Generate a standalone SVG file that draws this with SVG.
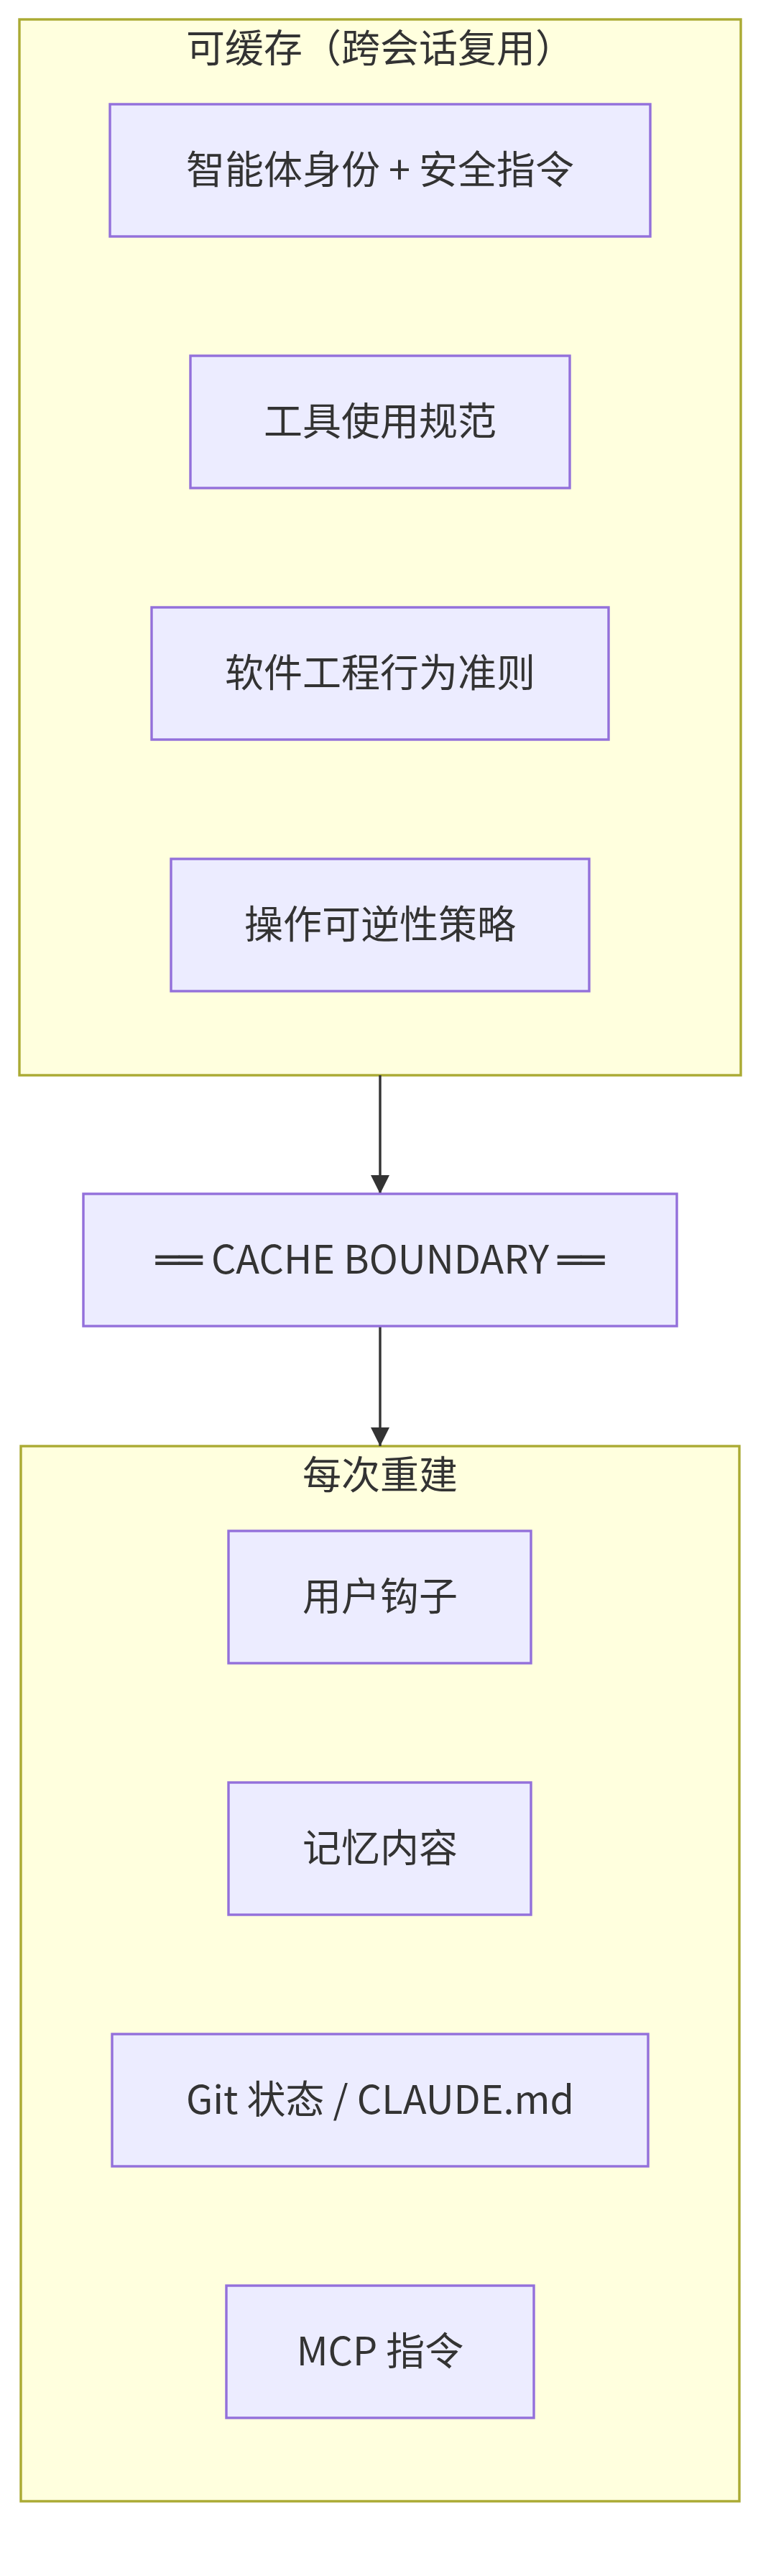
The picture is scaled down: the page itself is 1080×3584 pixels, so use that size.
<svg xmlns="http://www.w3.org/2000/svg" width="1080" height="3584" viewBox="0 0 1080 3584">
<style>
.cluster{fill:#ffffde;stroke:#aaaa33;stroke-width:3.4}
.node{fill:#ececff;stroke:#9370db;stroke-width:3.4}
.lbl{font-family:"Noto Sans CJK SC","Noto Sans CJK JP",sans-serif;font-size:54px;fill:#333333;text-anchor:middle}
.box{font-family:"DejaVu Sans",sans-serif}
.edge{stroke:#333333;stroke-width:3.4;fill:none}
</style>
<defs>
<marker id="arrow" viewBox="0 0 10 10" refX="10" refY="5" markerUnits="userSpaceOnUse" markerWidth="26" markerHeight="26" orient="auto">
<path d="M0,0 L10,5 L0,10 z" fill="#333333"/>
</marker>
</defs>
<rect width="1080" height="3584" fill="#ffffff"/>
<g id="cluster-cacheable">
<rect class="cluster" x="27" y="27" width="1004" height="1469"/>
<text class="lbl" x="529" y="87">可缓存（跨会话复用）</text>
</g>
<g id="cluster-rebuild">
<rect class="cluster" x="29" y="2012" width="1000" height="1468"/>
<text class="lbl" x="529" y="2072">每次重建</text>
</g>
<g id="edges">
<path class="edge" d="M529,1496 L529,1661" marker-end="url(#arrow)"/>
<path class="edge" d="M529,1845 L529,2012" marker-end="url(#arrow)"/>
</g>
<g id="node-identity">
<rect class="node" x="153" y="145" width="752" height="184"/>
<text class="lbl" x="529" y="256">智能体身份 + 安全指令</text>
</g>
<g id="node-tools">
<rect class="node" x="265" y="495" width="528" height="184"/>
<text class="lbl" x="529" y="606">工具使用规范</text>
</g>
<g id="node-se">
<rect class="node" x="211" y="845" width="636" height="184"/>
<text class="lbl" x="529" y="956">软件工程行为准则</text>
</g>
<g id="node-reversible">
<rect class="node" x="238" y="1195" width="582" height="184"/>
<text class="lbl" x="529" y="1306">操作可逆性策略</text>
</g>
<g id="node-boundary">
<rect class="node" x="116" y="1661" width="826" height="184"/>
<text class="lbl" x="529" y="1772"><tspan class="box">══</tspan> CACHE BOUNDARY <tspan class="box">══</tspan></text>
</g>
<g id="node-hooks">
<rect class="node" x="318" y="2130" width="421" height="184"/>
<text class="lbl" x="529" y="2241">用户钩子</text>
</g>
<g id="node-memory">
<rect class="node" x="318" y="2480" width="421" height="184"/>
<text class="lbl" x="529" y="2591">记忆内容</text>
</g>
<g id="node-git">
<rect class="node" x="156" y="2830" width="746" height="184"/>
<text class="lbl" x="529" y="2941">Git 状态 / CLAUDE.md</text>
</g>
<g id="node-mcp">
<rect class="node" x="315" y="3180" width="428" height="184"/>
<text class="lbl" x="529" y="3291">MCP 指令</text>
</g>
</svg>
